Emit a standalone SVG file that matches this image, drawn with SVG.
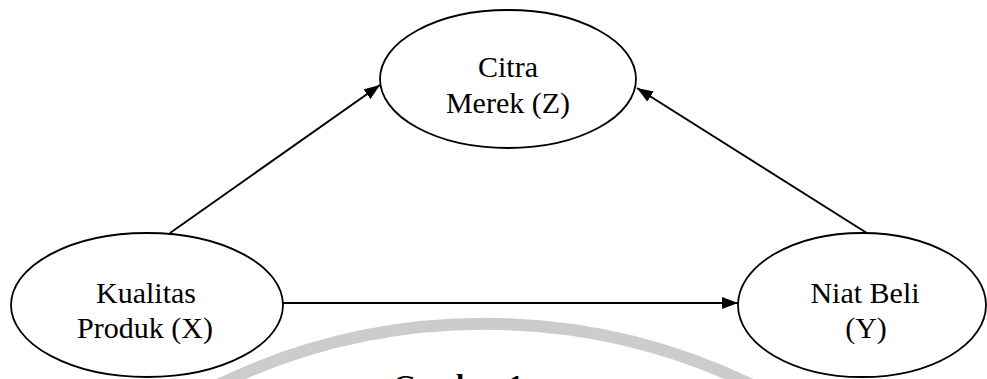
<svg xmlns="http://www.w3.org/2000/svg" width="987" height="379" viewBox="0 0 987 379">
  <style>
    .node { fill: #ffffff; stroke: #000000; stroke-width: 1.8; }
    .label { font-family: "Liberation Serif", "Times New Roman", serif; font-size: 30px; fill: #000000; text-anchor: middle; }
    .edge { stroke: #000000; stroke-width: 2; fill: none; marker-end: url(#arrow); }
    .caption { font-family: "Liberation Serif", "Times New Roman", serif; font-size: 30px; font-weight: bold; fill: #000000; }
  </style>
  <defs>
    <marker id="arrow" viewBox="0 0 16 12" refX="16" refY="6" markerWidth="16" markerHeight="12" markerUnits="userSpaceOnUse" orient="auto">
      <path d="M0,0 L16,6 L0,12 Z" fill="#000000"/>
    </marker>
  </defs>

  <rect width="987" height="379" fill="#ffffff"/>

  <!-- faint background arc -->
  <path d="M 208 390 A 613 613 0 0 1 762 390" fill="none" stroke="#cccccc" stroke-width="12"/>

  <g id="connectors">
    <line class="edge" x1="283" y1="303" x2="738" y2="303"/>
    <line class="edge" x1="170" y1="233" x2="380" y2="85"/>
    <line class="edge" x1="870" y1="235" x2="637" y2="88"/>
  </g>

  <g id="node-citra-merek">
    <ellipse class="node" cx="508" cy="79" rx="128" ry="69"/>
    <text class="label" x="508" y="77">Citra</text>
    <text class="label" x="508" y="113">Merek (Z)</text>
  </g>

  <g id="node-kualitas-produk">
    <ellipse class="node" cx="147" cy="305" rx="136" ry="72"/>
    <text class="label" x="146" y="303">Kualitas</text>
    <text class="label" x="145" y="338">Produk (X)</text>
  </g>

  <g id="node-niat-beli">
    <ellipse class="node" cx="862" cy="305" rx="124" ry="72"/>
    <text class="label" x="865" y="303">Niat Beli</text>
    <text class="label" x="866" y="338">(Y)</text>
  </g>

  <text class="caption" x="393" y="395">Gambar 1</text>
</svg>
